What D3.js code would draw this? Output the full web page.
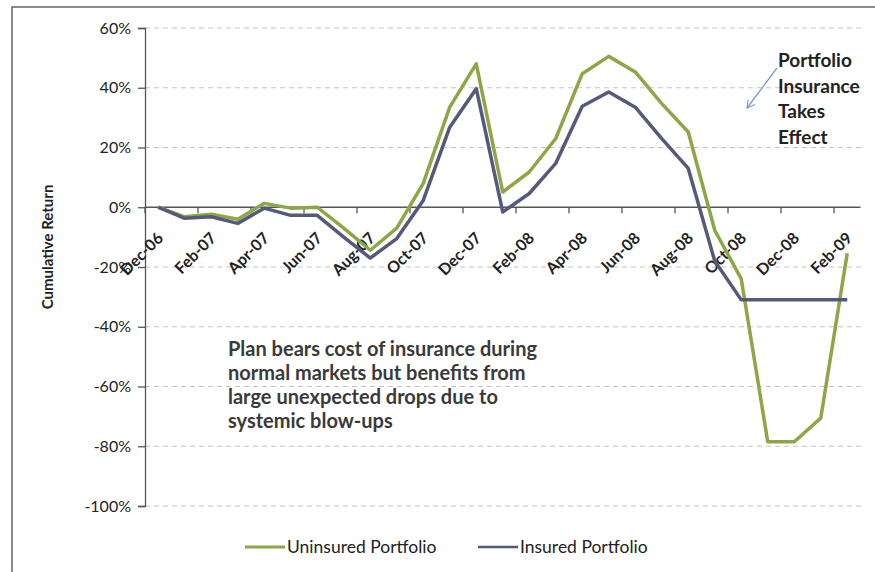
<!DOCTYPE html>
<meta charset="utf-8">
<script src="https://d3js.org/d3.v7.min.js"></script>
<style>
  html, body { margin: 0; padding: 0; background: #fff; overflow: hidden; }
  svg { display: block; }
  svg text { font-family: Lato, "Open Sans", sans-serif; }
</style>
<body>
<div id="canvas"></div>
<script>

    // months (categories) -------------------------------------------
    var months = ["Dec-06","Jan-07","Feb-07","Mar-07","Apr-07","May-07","Jun-07","Jul-07",
                  "Aug-07","Sep-07","Oct-07","Nov-07","Dec-07","Jan-08","Feb-08","Mar-08",
                  "Apr-08","May-08","Jun-08","Jul-08","Aug-08","Sep-08","Oct-08","Nov-08",
                  "Dec-08","Jan-09","Feb-09"];

    // cumulative return, in %
    var uninsured = [0, -3.2, -2.3, -4, 1.3, -0.3, 0, -7, -14.4, -7, 8, 33.5,
                     48, 5.1, 11.8, 23, 44.7, 50.5, 45.3, 34.7, 25.2, -7.7, -24,
                     -78.5, -78.5, -70.6, -15.4];
    var insured   = [0, -3.7, -3.2, -5.4, -0.3, -2.7, -2.7, -10, -17, -10.5, 2.3, 26.8,
                     39.7, -1.6, 4.6, 14.7, 33.8, 38.6, 33.5, 23, 13, -18, -31,
                     -31, -31, -31, -31];

    var yTicks = [60, 40, 20, 0, -20, -40, -60, -80, -100];
    var labelMonths = months.filter(function(d, i) { return i % 2 == 0; });

    var seriesNames = ["Uninsured Portfolio", "Insured Portfolio"];
    var seriesColors = ["#8da646", "#565a7a"];

    var width = 875;
    var height = 572;

    var svg = d3.select('#canvas')
        .append("svg")
        .attr("width", width)
        .attr("height", height);

    // moldura (so esquerda e topo aparecem) ----------------------------
    svg.append("path")
        .attr("d", "M12," + height + "V7H" + width)
        .attr("fill", "none")
        .attr("stroke", "#666")
        .attr("stroke-width", 1.5);

    // escalas ----------------------------------------------------------
    var x = d3.scaleBand()
        .domain(months)
        .range([145, 860.5]);
    var cx = function(m) { return x(m) + x.bandwidth() / 2; };

    var y = d3.scaleLinear()
        .domain([-100, 60])
        .range([506, 28]);

    // grid -------------------------------------------------------------
    svg.append("g")
        .selectAll("line")
        .data(yTicks.filter(function(d) { return d != 0; }))
        .enter()
        .append("line")
        .attr("x1", 145).attr("x2", 862)
        .attr("y1", function(d) { return y(d); })
        .attr("y2", function(d) { return y(d); })
        .attr("stroke", "#c4c4c4")
        .attr("stroke-width", 1)
        .attr("stroke-dasharray", "5,4");

    // eixo Y -----------------------------------------------------------
    var yAxis = d3.axisLeft(y)
        .tickValues(yTicks)
        .tickSize(7)
        .tickPadding(7)
        .tickFormat(function(d) { return d + "%"; });

    var gy = svg.append("g")
        .attr("transform", "translate(145,0)")
        .call(yAxis);
    gy.selectAll("path, line").attr("stroke", "#555").attr("stroke-width", 1.3);
    gy.selectAll("text")
        .attr("fill", "#222")
        .style("font-size", "16px");

    svg.append("text")
        .attr("transform", "translate(53,247) rotate(-90)")
        .attr("text-anchor", "middle")
        .attr("fill", "#222")
        .style("font-size", "15px")
        .style("font-weight", "bold")
        .text("Cumulative Return");

    // eixo X (no 0%) ---------------------------------------------------
    var gx = svg.append("g");
    gx.append("line")
        .attr("x1", 145).attr("x2", 860.5)
        .attr("y1", y(0)).attr("y2", y(0))
        .attr("stroke", "#555")
        .attr("stroke-width", 1.3);

    gx.selectAll(".tick")
        .data(labelMonths)
        .enter()
        .append("line")
        .attr("x1", function(d) { return x(d); })
        .attr("x2", function(d) { return x(d); })
        .attr("y1", y(0)).attr("y2", y(0) + 6)
        .attr("stroke", "#555")
        .attr("stroke-width", 1.3);

    gx.selectAll(".lbl")
        .data(labelMonths)
        .enter()
        .append("text")
        .attr("transform", function(d) {
            return "translate(" + (cx(d) + 2) + "," + (y(0) + 28) + ") rotate(-45)";
        })
        .attr("text-anchor", "end")
        .attr("dy", "0.35em")
        .attr("fill", "#222")
        .style("font-size", "16px")
        .style("font-weight", "bold")
        .text(function(d) { return d; });

    // linhas -----------------------------------------------------------
    var line = d3.line()
        .x(function(d, i) { return cx(months[i]); })
        .y(function(d) { return y(d); });

    [uninsured, insured].forEach(function(s, k) {
        svg.append("path")
            .attr("d", line(s))
            .attr("fill", "none")
            .attr("stroke", seriesColors[k])
            .attr("stroke-width", 3.5)
            .attr("stroke-linejoin", "round");
    });

    // anotacoes --------------------------------------------------------
    var note1 = ["Plan bears cost of insurance during",
                 "normal markets but benefits from",
                 "large unexpected drops due to",
                 "systemic blow-ups"];
    svg.append("text")
        .attr("fill", "#3a3a3a")
        .style("font-size", "20px")
        .style("font-weight", "bold")
        .selectAll("tspan")
        .data(note1)
        .enter()
        .append("tspan")
        .attr("x", 228)
        .attr("y", function(d, i) { return 356 + i * 24; })
        .text(function(d) { return d; });

    var note2 = ["Portfolio", "Insurance", "Takes", "Effect"];
    svg.append("text")
        .attr("fill", "#222")
        .style("font-size", "19px")
        .style("font-weight", "bold")
        .selectAll("tspan")
        .data(note2)
        .enter()
        .append("tspan")
        .attr("x", 778)
        .attr("y", function(d, i) { return 67 + i * 25.5; })
        .text(function(d) { return d; });

    svg.append("defs").append("marker")
        .attr("id", "arrow")
        .attr("viewBox", "-10 -6 12 12")
        .attr("refX", 0).attr("refY", 0)
        .attr("markerWidth", 10).attr("markerHeight", 10)
        .attr("markerUnits", "userSpaceOnUse")
        .attr("orient", "auto")
        .append("path")
        .attr("d", "M-9,-5 L0,0 L-9,5")
        .attr("fill", "none")
        .attr("stroke", "#8096d2")
        .attr("stroke-width", 1.3);

    svg.append("line")
        .attr("x1", 777).attr("y1", 68)
        .attr("x2", 747).attr("y2", 108)
        .attr("stroke", "#8096d2")
        .attr("stroke-width", 1.3)
        .attr("marker-end", "url(#arrow)");

    // legenda ----------------------------------------------------------
    var legendX = [245, 478];
    var legend = svg.selectAll(".legend")
        .data(seriesNames)
        .enter()
        .append("g")
        .attr("transform", function(d, i) { return "translate(" + legendX[i] + ",547)"; });
    legend.append("line")
        .attr("x1", 0).attr("x2", 40)
        .attr("stroke", function(d, i) { return seriesColors[i]; })
        .attr("stroke-width", function(d, i) { return i == 0 ? 3 : 2.5; });
    legend.append("text")
        .attr("x", 42)
        .attr("dy", "0.35em")
        .attr("fill", "#222")
        .style("font-size", "17.5px")
        .text(function(d) { return d; });

</script>
</body>
